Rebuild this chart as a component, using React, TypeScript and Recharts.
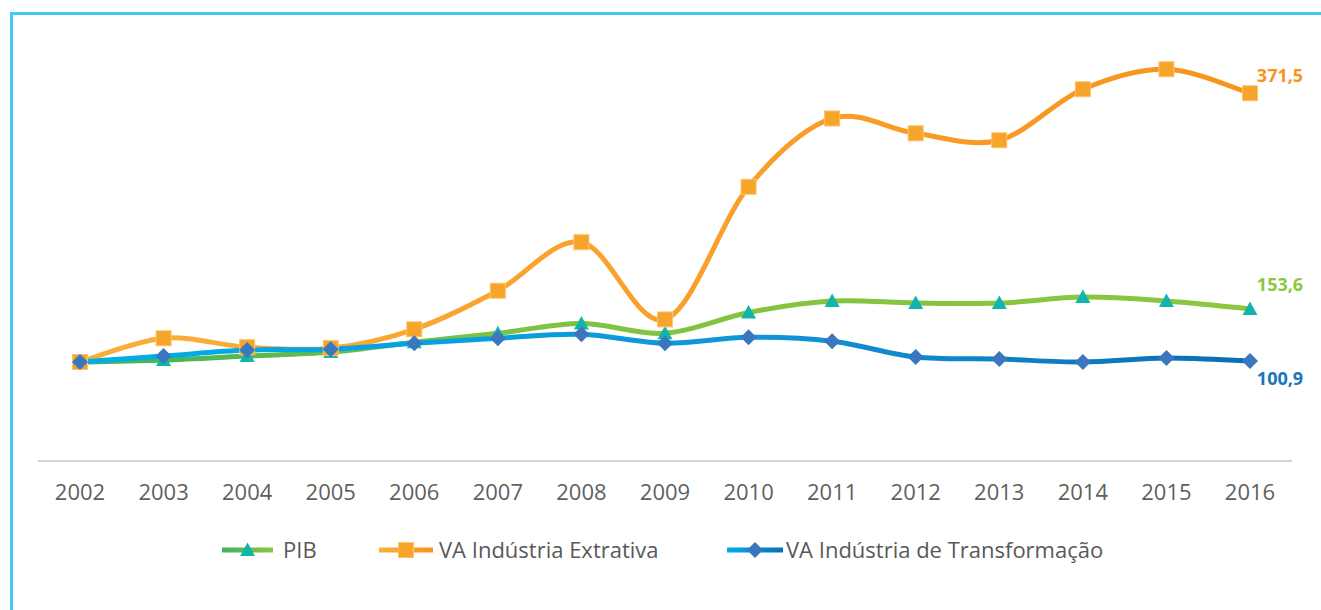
import React from "react";
import { LabelList, Line, LineChart, XAxis, YAxis } from "recharts";

const years = ["2002", "2003", "2004", "2005", "2006", "2007", "2008", "2009", "2010", "2011", "2012", "2013", "2014", "2015", "2016"];
const pib = [100, 102, 106, 110, 120, 129, 139, 129, 150, 161.6, 159.5, 159.5, 165.6, 161.6, 153.6];
const extrativa = [100, 124, 115, 114, 133, 172, 221, 143, 277, 346, 331, 324, 375.5, 395.7, 371.5];
const transformacao = [100, 106, 112, 113, 119, 124, 128, 119, 125, 121, 105, 103, 100, 104, 100.9];
const seriesNames = ["PIB", "VA Indústria Extrativa", "VA Indústria de Transformação"];

const data = years.map((year, i) => ({
  year,
  pib: pib[i],
  extrativa: extrativa[i],
  transformacao: transformacao[i],
}));

const FONT = "'Open Sans', 'DejaVu Sans', sans-serif";
const LAST = years.length - 1;

// Excel-like smoothed line (Catmull-Rom through the points)
function smoothCurve(context: any) {
  let pts: number[][] = [];
  return {
    areaStart() {},
    areaEnd() {},
    lineStart() {
      pts = [];
    },
    point(x: number, y: number) {
      pts.push([+x, +y]);
    },
    lineEnd() {
      const n = pts.length;
      if (!n) return;
      context.moveTo(pts[0][0], pts[0][1]);
      for (let i = 0; i < n - 1; i++) {
        const p0 = pts[Math.max(i - 1, 0)];
        const p1 = pts[i];
        const p2 = pts[i + 1];
        const p3 = pts[Math.min(i + 2, n - 1)];
        context.bezierCurveTo(
          p1[0] + (p2[0] - p0[0]) / 6,
          p1[1] + (p2[1] - p0[1]) / 6,
          p2[0] - (p3[0] - p1[0]) / 6,
          p2[1] - (p3[1] - p1[1]) / 6,
          p2[0],
          p2[1]
        );
      }
    },
  };
}

const triangle = (cx: number, cy: number, key?: any) => (
  <path key={key} d={`M${cx},${cy - 7.5}L${cx + 7.5},${cy + 6}L${cx - 7.5},${cy + 6}Z`} fill="#12b5a9" />
);
const square = (cx: number, cy: number, key?: any) => (
  <rect key={key} x={cx - 7.5} y={cy - 7.5} width={15} height={15} fill="#f6a52a" stroke="#fbc46e" strokeWidth={1} />
);
const diamond = (cx: number, cy: number, key?: any) => (
  <path key={key} d={`M${cx},${cy - 8}L${cx + 8},${cy}L${cx},${cy + 8}L${cx - 8},${cy}Z`} fill="#3a77bf" />
);

const endLabel = (color: string, dx: number, dy: number) => (props: any) => {
  if (props.index !== LAST) return null;
  return (
    <text
      x={props.x + dx}
      y={props.y + dy}
      fill={color}
      fontSize={18}
      fontWeight={700}
      fontFamily={FONT}
      textAnchor="middle"
      dominantBaseline="middle"
    >
      {String(props.value).replace(".", ",")}
    </text>
  );
};

function LegendItem({ id, left, width, textLeft, from, to, marker, label }: any) {
  return (
    <>
      <svg style={{ position: "absolute", left, top: 538 }} width={width} height={24}>
        <defs>
          <linearGradient id={id} x1="0" y1="0" x2="1" y2="0">
            <stop offset="0" stopColor={from} />
            <stop offset="1" stopColor={to} />
          </linearGradient>
        </defs>
        <rect x={0} y={9.5} width={width} height={5} fill={`url(#${id})`} />
        {marker(width / 2, 12)}
      </svg>
      <div
        style={{
          position: "absolute",
          left: textLeft,
          top: 534,
          fontFamily: FONT,
          fontSize: 22,
          color: "#595959",
          lineHeight: "30px",
          whiteSpace: "nowrap",
        }}
      >
        {label}
      </div>
    </>
  );
}

export default function App() {
  return (
    <div style={{ position: "absolute", left: 0, top: 0, width: 1321, height: 610, background: "#fff" }}>
      <div
        style={{
          position: "absolute",
          left: 10,
          top: 12,
          right: 0,
          bottom: 0,
          borderTop: "3px solid #45c8f2",
          borderLeft: "3px solid #45c8f2",
        }}
      />
      <div style={{ position: "absolute", left: 0, top: 0 }}>
        <LineChart width={1321} height={610} data={data} margin={{ top: 65, right: 29, bottom: 119, left: 38 }}>
          <defs>
            <linearGradient id="gPib" x1="0" y1="0" x2="1" y2="0">
              <stop offset="0" stopColor="#3cb35e" />
              <stop offset="0.35" stopColor="#7dc242" />
              <stop offset="1" stopColor="#8dc63f" />
            </linearGradient>
            <linearGradient id="gExt" x1="0" y1="0" x2="1" y2="0">
              <stop offset="0" stopColor="#fbad3a" />
              <stop offset="1" stopColor="#f7941d" />
            </linearGradient>
            <linearGradient id="gTra" x1="0" y1="0" x2="1" y2="0">
              <stop offset="0" stopColor="#00aee8" />
              <stop offset="0.6" stopColor="#1193d4" />
              <stop offset="1" stopColor="#0b6db5" />
            </linearGradient>
          </defs>
          <XAxis
            dataKey="year"
            height={30}
            padding={{ left: 42, right: 42 }}
            tickLine={false}
            axisLine={{ stroke: "#d4d4d4", strokeWidth: 2 }}
            tickMargin={17}
            tick={{ fill: "#5f5f5f", fontSize: 22, fontFamily: FONT }}
          />
          <YAxis hide domain={[0, 400]} />
          <Line
            dataKey="pib"
            name={seriesNames[0]}
            type={smoothCurve as any}
            stroke="url(#gPib)"
            strokeWidth={5}
            dot={(p: any) => triangle(p.cx, p.cy, p.index)}
            activeDot={false}
            isAnimationActive={false}
          >
            <LabelList dataKey="pib" content={endLabel("#8dc63f", 30, -23)} />
          </Line>
          <Line
            dataKey="extrativa"
            name={seriesNames[1]}
            type={smoothCurve as any}
            stroke="url(#gExt)"
            strokeWidth={5}
            dot={(p: any) => square(p.cx, p.cy, p.index)}
            activeDot={false}
            isAnimationActive={false}
          >
            <LabelList dataKey="extrativa" content={endLabel("#f7941d", 30, -16)} />
          </Line>
          <Line
            dataKey="transformacao"
            name={seriesNames[2]}
            type={smoothCurve as any}
            stroke="url(#gTra)"
            strokeWidth={5}
            dot={(p: any) => diamond(p.cx, p.cy, p.index)}
            activeDot={false}
            isAnimationActive={false}
          >
            <LabelList dataKey="transformacao" content={endLabel("#1a75bc", 30, 19)} />
          </Line>
        </LineChart>
      </div>
      <LegendItem id="lgPib" left={222} width={51} textLeft={283} from="#3cb35e" to="#8dc63f" marker={triangle} label={seriesNames[0]} />
      <LegendItem id="lgExt" left={379} width={54} textLeft={439} from="#fbad3a" to="#f7941d" marker={square} label={seriesNames[1]} />
      <LegendItem id="lgTra" left={727} width={56} textLeft={786} from="#00aee8" to="#0b6db5" marker={diamond} label={seriesNames[2]} />
    </div>
  );
}
